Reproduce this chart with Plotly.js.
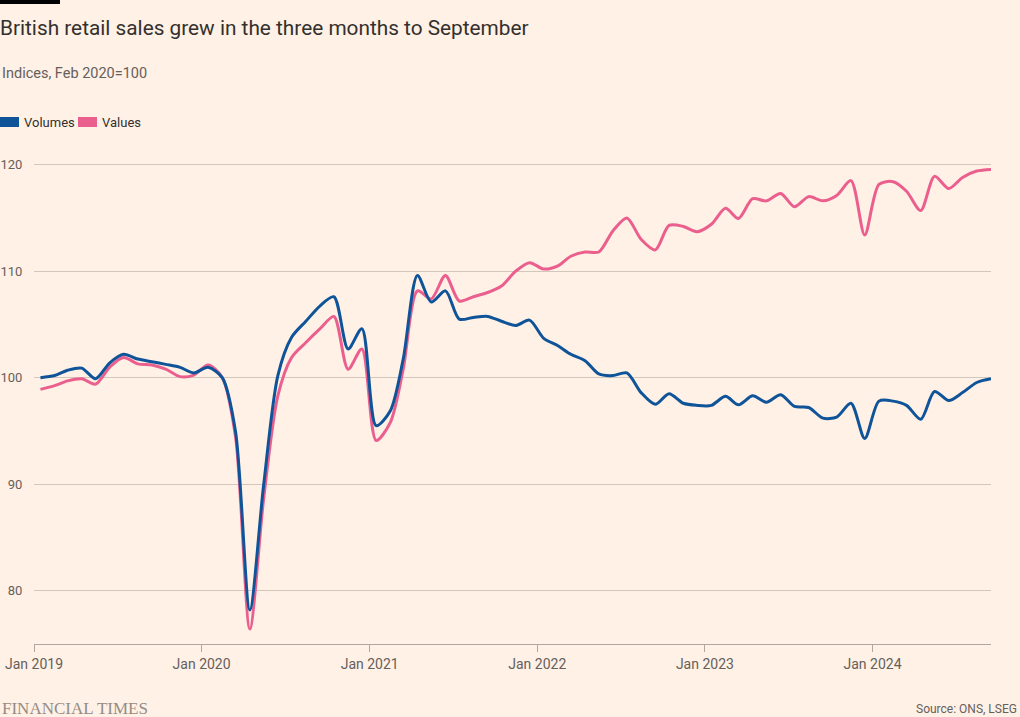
<!DOCTYPE html>
<html>
<head>
<meta charset="utf-8">
<script src="https://cdn.plot.ly/plotly-3.0.1.min.js"></script>
<style>
  html, body { margin: 0; padding: 0; background: #fff1e5; }
  #chart { width: 1020px; height: 717px; }
</style>
</head>
<body>
<div id="chart"></div>
<script>
// Monthly dates (mid-month), Jan 2019 – Sep 2024
const months = [];
for (let y = 2019; y <= 2024; y++) {
  for (let m = 1; m <= 12; m++) {
    if (y === 2024 && m > 9) break;
    months.push(y + '-' + String(m).padStart(2, '0') + '-15');
  }
}

// Retail sales volumes index (Feb 2020 = 100)
const volumes = [
  100.0, 100.2, 100.7, 100.9, 99.9, 101.4, 102.2, 101.75, 101.5, 101.25, 100.97, 100.45,
  100.97, 100.0, 94.9, 78.2, 89.9, 100.2, 103.8, 105.3, 106.75, 107.6, 102.7, 104.6,
  95.5, 96.9, 101.75, 109.6, 107.1, 108.15, 105.5, 105.66, 105.75, 105.3, 104.9, 105.4,
  103.7, 103.0, 102.2, 101.6, 100.35, 100.2, 100.45, 98.6, 97.5, 98.5, 97.6, 97.4,
  97.4, 98.25, 97.45, 98.3, 97.7, 98.4, 97.3, 97.2, 96.2, 96.3, 97.6, 94.3,
  97.8, 97.8, 97.4, 96.1, 98.7, 97.85, 98.6, 99.55, 99.9
];

// Retail sales values index (Feb 2020 = 100)
const values = [
  98.9, 99.25, 99.7, 99.9, 99.4, 101.0, 101.9, 101.3, 101.2, 100.8, 100.1, 100.25,
  101.2, 100.0, 94.4, 76.4, 88.6, 98.3, 101.9, 103.3, 104.6, 105.75, 100.8, 102.7,
  94.1, 95.8, 100.8, 108.15, 107.4, 109.6, 107.2, 107.6, 108.0, 108.6, 110.0, 110.8,
  110.2, 110.5, 111.4, 111.8, 111.8, 113.8, 115.0, 113.0, 112.0, 114.3, 114.2, 113.7,
  114.4, 115.9, 114.95, 116.8, 116.6, 117.3, 116.05, 117.0, 116.6, 117.1, 118.5, 113.4,
  118.15, 118.4, 117.5, 115.7, 118.9, 117.75, 118.8, 119.4, 119.55
];

const tickVals = ['2019-01-01', '2020-01-01', '2021-01-01', '2022-01-01', '2023-01-01', '2024-01-01'];
const tickText = ['Jan 2019', 'Jan 2020', 'Jan 2021', 'Jan 2022', 'Jan 2023', 'Jan 2024'];
const yTicks = [80, 90, 100, 110, 120];

const seriesNames = ['Volumes', 'Values'];
const seriesColors = ['#0f5499', '#eb5f8e'];

// Layout geometry
const W = 1020, H = 717;
const M = { l: 34, r: 29, t: 154, b: 73 };
const plotW = W - M.l - M.r, plotH = H - M.t - M.b;
const px = x => (x - M.l) / plotW;           // pixel x -> paper x
const py = y => (H - M.b - y) / plotH;       // pixel y -> paper y

const FONT = 'Roboto, "Noto Sans", sans-serif';
const textCol = '#33302e';
const subCol = '#66605c';

const traces = [
  {
    x: months, y: values, name: seriesNames[1], type: 'scatter', mode: 'lines',
    line: { color: seriesColors[1], width: 3, shape: 'spline', smoothing: 0.8 },
    hoverinfo: 'x+y+name'
  },
  {
    x: months, y: volumes, name: seriesNames[0], type: 'scatter', mode: 'lines',
    line: { color: seriesColors[0], width: 3, shape: 'spline', smoothing: 0.8 },
    hoverinfo: 'x+y+name'
  }
];

const shapes = [
  // FT black bar top-left
  { type: 'rect', xref: 'paper', yref: 'paper', x0: px(0), x1: px(60), y0: py(0), y1: py(4),
    fillcolor: '#000000', line: { width: 0 }, layer: 'above' },
  // legend swatches
  { type: 'rect', xref: 'paper', yref: 'paper', x0: px(0), x1: px(19), y0: py(117), y1: py(127),
    fillcolor: seriesColors[0], line: { width: 0 } },
  { type: 'rect', xref: 'paper', yref: 'paper', x0: px(78), x1: px(97), y0: py(117), y1: py(127),
    fillcolor: seriesColors[1], line: { width: 0 } }
];

const annotations = [
  { text: 'Indices, Feb 2020=100', xref: 'paper', yref: 'paper', x: px(0), y: py(73),
    xanchor: 'left', yanchor: 'middle', showarrow: false, font: { family: FONT, size: 14.5, color: subCol } },
  { text: seriesNames[0], xref: 'paper', yref: 'paper', x: px(22), y: py(122),
    xanchor: 'left', yanchor: 'middle', showarrow: false, font: { family: FONT, size: 13, color: textCol } },
  { text: seriesNames[1], xref: 'paper', yref: 'paper', x: px(100), y: py(122),
    xanchor: 'left', yanchor: 'middle', showarrow: false, font: { family: FONT, size: 13, color: textCol } },
  { text: 'FINANCIAL TIMES', xref: 'paper', yref: 'paper', x: px(0), y: py(708),
    xanchor: 'left', yanchor: 'middle', showarrow: false,
    font: { family: '"Liberation Serif", "DejaVu Serif", serif', size: 17, color: '#948c85' } },
  { text: 'Source: ONS, LSEG', xref: 'paper', yref: 'paper', x: px(1019), y: py(709),
    xanchor: 'right', yanchor: 'middle', showarrow: false, font: { family: FONT, size: 12, color: subCol } }
];

const layout = {
  width: W, height: H,
  paper_bgcolor: '#fff1e5', plot_bgcolor: '#fff1e5',
  margin: M,
  showlegend: false,
  title: {
    text: 'British retail sales grew in the three months to September',
    x: 0, xref: 'container', xanchor: 'left',
    y: 1 - 28 / H, yref: 'container', yanchor: 'middle',
    font: { family: FONT, size: 20.8, color: textCol }
  },
  xaxis: {
    type: 'date',
    range: ['2019-01-01', '2024-09-15'],
    tickvals: tickVals, ticktext: tickText,
    showgrid: false, zeroline: false,
    showline: true, linecolor: '#b1a79e', linewidth: 1,
    ticks: 'outside', ticklen: 7, tickcolor: '#b1a79e', tickwidth: 1,
    tickfont: { family: FONT, size: 14, color: subCol },
    fixedrange: true
  },
  yaxis: {
    range: [75, 121],
    tickvals: yTicks,
    showgrid: true, gridcolor: '#d3c7bc', gridwidth: 1,
    zeroline: false, showline: false,
    ticks: 'outside', ticklen: 8, tickcolor: 'rgba(0,0,0,0)',
    tickfont: { family: FONT, size: 13, color: subCol },
    fixedrange: true
  },
  shapes: shapes,
  annotations: annotations
};

Plotly.newPlot('chart', traces, layout, { displayModeBar: false });
</script>
</body>
</html>
